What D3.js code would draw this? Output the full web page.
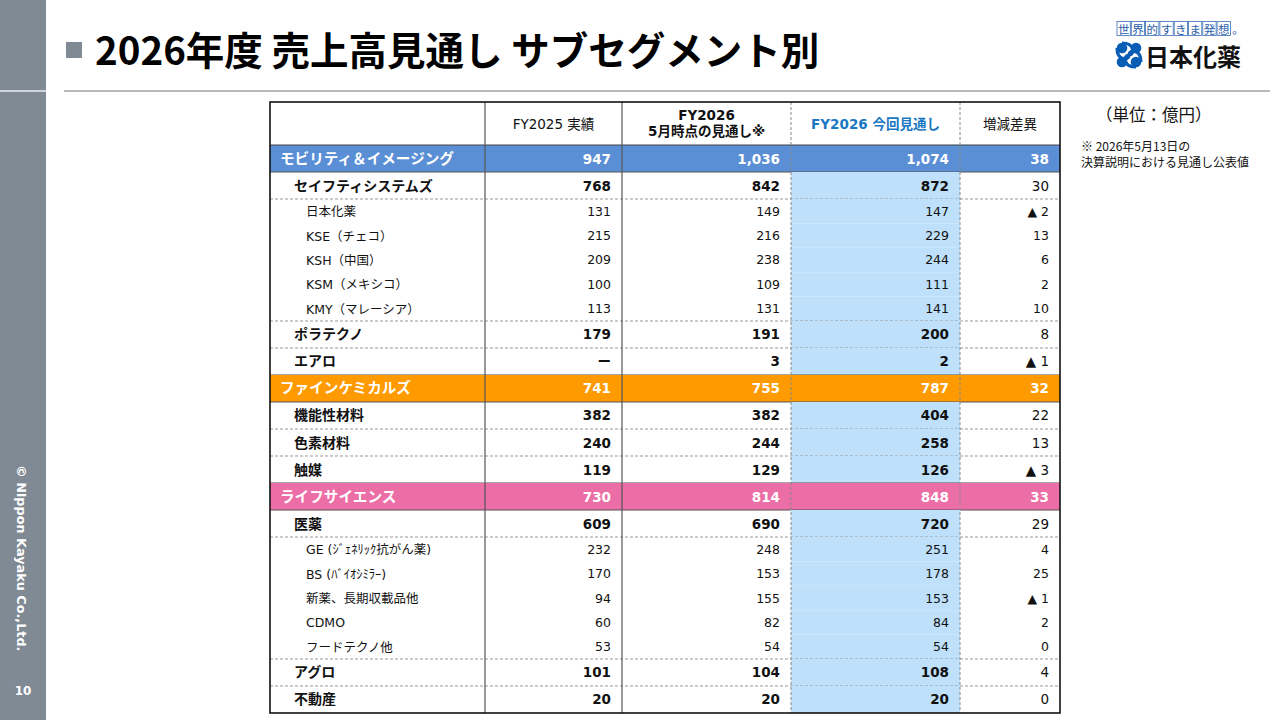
<!DOCTYPE html>
<html><head><meta charset="utf-8">
<script src="https://cdn.jsdelivr.net/npm/d3@7"></script>
<style>
html,body{margin:0;padding:0;background:#fff;}
svg{display:block;}
</style></head>
<body>
<svg id="c" width="1280" height="720"></svg>
<script>
// ---- data ----
const labels = ["モビリティ＆イメージング","セイフティシステムズ","日本化薬","KSE（チェコ）","KSH（中国）","KSM（メキシコ）","KMY（マレーシア）","ポラテクノ","エアロ",
 "ファインケミカルズ","機能性材料","色素材料","触媒",
 "ライフサイエンス","医薬","GE (ｼﾞｪﾈﾘｯｸ抗がん薬)","BS (ﾊﾞｲｵｼﾐﾗｰ)","新薬、長期収載品他","CDMO","フードテクノ他","アグロ","不動産"];
const levels = [0,1,2,2,2,2,2,1,1, 0,1,1,1, 0,1,2,2,2,2,2,1,1];
const groupOf = [0,0,0,0,0,0,0,0,0, 1,1,1,1, 2,2,2,2,2,2,2,2,2];
const fy2025 = [947,768,131,215,209,100,113,179,null, 741,382,240,119, 730,609,232,170,94,60,53,101,20];
const fy2026May = [1036,842,149,216,238,109,131,191,3, 755,382,244,129, 814,690,248,153,155,82,54,104,20];
const fy2026Now = [1074,872,147,229,244,111,141,200,2, 787,404,258,126, 848,720,251,178,153,84,54,108,20];
const diff = [38,30,-2,13,6,2,10,8,-1, 32,22,13,-3, 33,29,4,25,-1,2,0,4,0];
const headers = [[""],["FY2025 実績"],["FY2026","5月時点の見通し※"],["FY2026 今回見通し"],["増減差異"]];
const groupColors = ["#5A8FD6","#FF9A00","#EC6EA6"];

// ---- layout ----
const svg = d3.select("#c");
const JP = "'Noto Sans CJK JP','Noto Sans',sans-serif";
const NUM = "'DejaVu Sans','Noto Sans CJK JP',sans-serif";

// sidebar
svg.append("rect").attr("x",0).attr("y",0).attr("width",46).attr("height",720).attr("fill","#7F8A95");
svg.append("line").attr("x1",0).attr("x2",46).attr("y1",91).attr("y2",91).attr("stroke","#e8ecef").attr("stroke-width",1.5);
svg.append("text").attr("transform","translate(17,465) rotate(90)").attr("fill","#fff")
  .attr("font-family","'DejaVu Sans',sans-serif").attr("font-weight","bold").attr("font-size",12.8)
  .text("© Nippon Kayaku Co.,Ltd.");
svg.append("text").attr("x",23).attr("y",695).attr("text-anchor","middle").attr("fill","#fff")
  .attr("font-family","'DejaVu Sans',sans-serif").attr("font-weight","bold").attr("font-size",12).text("10");

// title
svg.append("rect").attr("x",66).attr("y",42).attr("width",16).attr("height",16).attr("fill","#7F8A95");
svg.append("text").attr("x",95).attr("y",65).attr("font-family",JP).attr("font-weight","bold")
  .attr("font-size",38.5).attr("fill","#000").text("2026年度 売上高見通し サブセグメント別");
svg.append("line").attr("x1",64).attr("x2",1270).attr("y1",91).attr("y2",91).attr("stroke","#a0a4a8").attr("stroke-width",1.5);

// logo
const slogan = "世界的すきま発想。".split("");
const lg = svg.append("g");
slogan.forEach((ch,i)=>{
  const x = 1117 + i*14.3;
  if(i<8) lg.append("rect").attr("x",x).attr("y",21.5).attr("width",13.3).attr("height",14).attr("fill","#fff").attr("stroke","#3a6fb8").attr("stroke-width",0.8);
  lg.append("text").attr("x",x+6.65).attr("y",33.5).attr("text-anchor","middle").attr("font-family",JP).attr("font-size",11.5).attr("fill","#2b5ea8").text(ch);
});
const sym = svg.append("g").attr("transform","translate(1129,55)");
[[-7,-7],[7,-7],[-7,7],[7,7]].forEach(p=>sym.append("circle").attr("cx",p[0]).attr("cy",p[1]).attr("r",5.3).attr("fill","#0a5db4"));
sym.append("path").attr("d","M-7,-12 C6,-12 6,0 0,0 C-6,0 -6,12 7,12").attr("fill","none").attr("stroke","#0a5db4").attr("stroke-width",3.2);
sym.append("path").attr("d","M-12,-7 C-12,6 0,6 0,0 C0,-6 12,-6 12,7").attr("fill","none").attr("stroke","#0a5db4").attr("stroke-width",3.2);
svg.append("text").attr("x",1145).attr("y",66).attr("font-family",JP).attr("font-weight","bold").attr("font-size",24).attr("fill","#111").text("日本化薬");

// notes
svg.append("text").attr("x",1096).attr("y",121).attr("font-family",JP).attr("font-size",16.5).attr("fill","#111").text("（単位：億円）");
svg.append("text").attr("x",1081).attr("y",151).attr("font-family",JP).attr("font-size",12).attr("fill","#111").text("※ 2026年5月13日の");
svg.append("text").attr("x",1081).attr("y",167).attr("font-family",JP).attr("font-size",12).attr("fill","#111").text("決算説明における見通し公表値");

// table scales
const colEdges = [270,485,622,791,960,1060];
const xCol = d3.scaleOrdinal().domain(d3.range(5)).range(colEdges.slice(0,5));
const colW = i => colEdges[i+1]-colEdges[i];
const unit = r => levels[r]===2 ? 1 : 1.107;
const cum = [0]; labels.forEach((l,i)=>cum.push(cum[i]+unit(i)));
const yRow = d3.scaleLinear().domain([0,cum[cum.length-1]]).range([145,713]);
const headTop = 102;

const tbl = svg.append("g");
// header
headers.forEach((h,i)=>{
  const cx = xCol(i)+colW(i)/2;
  h.forEach((line,j)=>{
    const y = h.length===1 ? 129 : 120+j*16;
    tbl.append("text").attr("x",cx).attr("y",y).attr("text-anchor","middle")
      .attr("font-family",NUM).attr("font-size",13.5)
      .attr("font-weight",(i===2||i===3)?"bold":"normal")
      .attr("fill",i===3?"#1A78C2":"#111").text(line);
  });
});

// rows
const fmt = d3.format(",");
const fmtV = v => v===null ? "ー" : fmt(v);
const fmtD = v => v<0 ? "▲ "+fmt(-v) : fmt(v);
labels.forEach((lab,r)=>{
  const y0 = yRow(cum[r]), y1 = yRow(cum[r+1]), h = y1-y0, cy = (y0+y1)/2;
  const lv = levels[r];
  const g = tbl.append("g");
  if(lv===0){
    g.append("rect").attr("x",colEdges[0]).attr("y",y0).attr("width",colEdges[5]-colEdges[0]).attr("height",h).attr("fill",groupColors[groupOf[r]]);
  } else {
    g.append("rect").attr("x",colEdges[3]).attr("y",y0).attr("width",colW(3)).attr("height",h).attr("fill","#BEE0FB");
  }
  const color = lv===0 ? "#fff" : "#111";
  const bold = lv<2;
  const indent = [10,24,36][lv];
  g.append("text").attr("x",colEdges[0]+indent).attr("y",cy+5).attr("font-family",lv===2?NUM:JP)
    .attr("font-weight",bold?"bold":"normal").attr("font-size",lv===2?12.5:(lv===0?14.6:14)).attr("fill",color).text(lab);
  const vals = [fmtV(fy2025[r]), fmtV(fy2026May[r]), fmtV(fy2026Now[r]), fmtD(diff[r])];
  vals.forEach((v,k)=>{
    const c = k+1;
    const isBold = lv===0 || (lv===1 && k<3);
    g.append("text").attr("x",colEdges[c+1]-11).attr("y",cy+(lv===2?4.5:5)).attr("text-anchor","end")
      .attr("font-family",NUM).attr("font-weight",isBold?"bold":"normal")
      .attr("font-size",lv===2?12.5:13.5).attr("fill",color).text(v);
  });
  // bottom border
  if(r<labels.length-1){
    const next = levels[r+1];
    if(lv===2 && next===2) return;
    const solid = lv===0 || next===0;
    tbl.append("line").attr("x1",colEdges[0]).attr("x2",colEdges[5]).attr("y1",y1).attr("y2",y1)
      .attr("stroke",solid?"#555":"#999").attr("stroke-width",1)
      .attr("stroke-dasharray",solid?null:"3,2");
  }
});
// header bottom
tbl.append("line").attr("x1",colEdges[0]).attr("x2",colEdges[5]).attr("y1",145).attr("y2",145).attr("stroke","#444").attr("stroke-width",1.2);
// verticals
[1,2].forEach(i=>tbl.append("line").attr("x1",colEdges[i]).attr("x2",colEdges[i]).attr("y1",headTop).attr("y2",713).attr("stroke","#555").attr("stroke-width",1.2));
[3,4].forEach(i=>tbl.append("line").attr("x1",colEdges[i]).attr("x2",colEdges[i]).attr("y1",headTop).attr("y2",713).attr("stroke","#888").attr("stroke-width",1).attr("stroke-dasharray","3,2"));
// outer
tbl.append("rect").attr("x",colEdges[0]).attr("y",headTop).attr("width",colEdges[5]-colEdges[0]).attr("height",713-headTop)
  .attr("fill","none").attr("stroke","#111").attr("stroke-width",1.6);
</script>
</body></html>
